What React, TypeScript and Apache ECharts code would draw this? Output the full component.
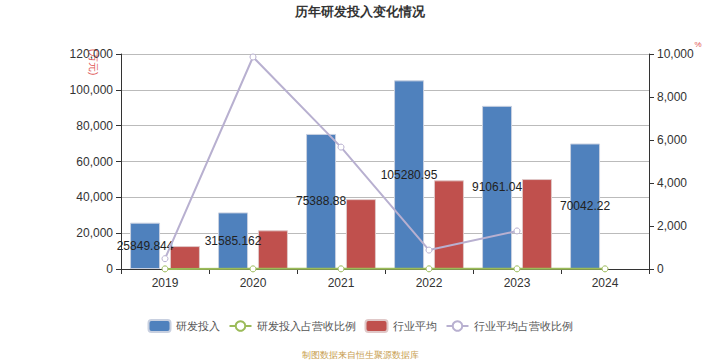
import React, { useEffect, useRef } from "react";
import * as echarts from "echarts";

const categories = ["2019", "2020", "2021", "2022", "2023", "2024"];
const rdInvest = [25849.844, 31585.162, 75388.88, 105280.95, 91061.04, 70042.22];
const rdRatio = [5.2, 6.1, 7.4, 8.3, 7.9, 6.8];
const industryAvg = [12800, 21600, 39000, 49500, 50200, null];
const industryRatio = [480, 9860, 5670, 880, 1770, null];
const leftTicks = { min: 0, max: 120000, interval: 20000 };
const rightTicks = { min: 0, max: 10000, interval: 2000 };

export default function App() {
  const ref = useRef<HTMLDivElement>(null);
  useEffect(() => {
    const chart = echarts.init(ref.current!, undefined, { renderer: "svg" });
    const axisLabelColor = "#333";
    chart.setOption({
      animation: false,
      title: {
        text: "历年研发投入变化情况",
        left: "center",
        top: 0,
        textStyle: { fontSize: 13, fontWeight: "bold", color: "#333" },
      },
      grid: { left: 121, right: 71, top: 54, bottom: 91 },
      legend: {
        bottom: 22,
        left: "center",
        itemWidth: 22,
        itemHeight: 12,
        itemGap: 9,
        textStyle: { color: "#555", fontSize: 11 },
        data: [
          { name: "研发投入", icon: "roundRect" },
          { name: "研发投入占营收比例" },
          { name: "行业平均", icon: "roundRect" },
          { name: "行业平均占营收比例" },
        ],
      },
      graphic: [
        {
          type: "text",
          x: 360,
          y: 355,
          style: {
            text: "制图数据来自恒生聚源数据库",
            fill: "#c8a050",
            fontSize: 9,
            align: "center",
            verticalAlign: "middle",
          },
        },
        {
          type: "text",
          x: 93,
          y: 62,
          rotation: -Math.PI / 2,
          style: {
            text: "(万元)",
            fill: "#e05050",
            fontSize: 10,
            align: "center",
            verticalAlign: "middle",
          },
        },
        {
          type: "text",
          x: 698,
          y: 44,
          style: {
            text: "%",
            fill: "#e05050",
            fontSize: 8,
            align: "center",
            verticalAlign: "middle",
          },
        },
      ],
      xAxis: {
        type: "category",
        data: categories,
        axisLine: { lineStyle: { color: "#333" } },
        axisTick: { show: true, alignWithLabel: false },
        axisLabel: { color: axisLabelColor, fontSize: 12, margin: 8 },
      },
      yAxis: [
        {
          type: "value",
          ...leftTicks,
          axisLine: { show: true, lineStyle: { color: "#333" } },
          axisTick: { show: true },
          axisLabel: { color: axisLabelColor, fontSize: 12 },
          splitLine: { lineStyle: { color: "#bbb" } },
        },
        {
          type: "value",
          ...rightTicks,
          position: "right",
          axisLine: { show: true, lineStyle: { color: "#333" } },
          axisTick: { show: true },
          axisLabel: { color: axisLabelColor, fontSize: 12 },
          splitLine: { show: false },
        },
      ],
      series: [
        {
          name: "研发投入",
          type: "bar",
          data: rdInvest,
          barWidth: 30,
          barGap: "33%",
          itemStyle: { color: "#4f81bd", borderColor: "#c8d0e0", borderWidth: 1 },
          label: {
            show: true,
            position: "inside",
            color: "#222",
            fontSize: 12,
          },
        },
        {
          name: "研发投入占营收比例",
          type: "line",
          yAxisIndex: 1,
          data: rdRatio,
          symbol: "circle",
          symbolSize: 6,
          itemStyle: { color: "#fff", borderColor: "#9bbb59", borderWidth: 1 },
          lineStyle: { color: "#9bbb59", width: 2 },
          z: 5,
        },
        {
          name: "行业平均",
          type: "bar",
          data: industryAvg,
          barWidth: 30,
          barGap: "33%",
          itemStyle: { color: "#c0504d", borderColor: "#e0c8c8", borderWidth: 1 },
        },
        {
          name: "行业平均占营收比例",
          type: "line",
          yAxisIndex: 1,
          data: industryRatio,
          symbol: "circle",
          symbolSize: 6,
          itemStyle: { color: "#fff", borderColor: "#b8b0d0", borderWidth: 1 },
          lineStyle: { color: "#b8b0d0", width: 2 },
          z: 5,
        },
      ],
    });
    return () => chart.dispose();
  }, []);
  return (
    <div
      ref={ref}
      style={{ position: "absolute", left: 0, top: 0, width: 720, height: 360 }}
    />
  );
}
